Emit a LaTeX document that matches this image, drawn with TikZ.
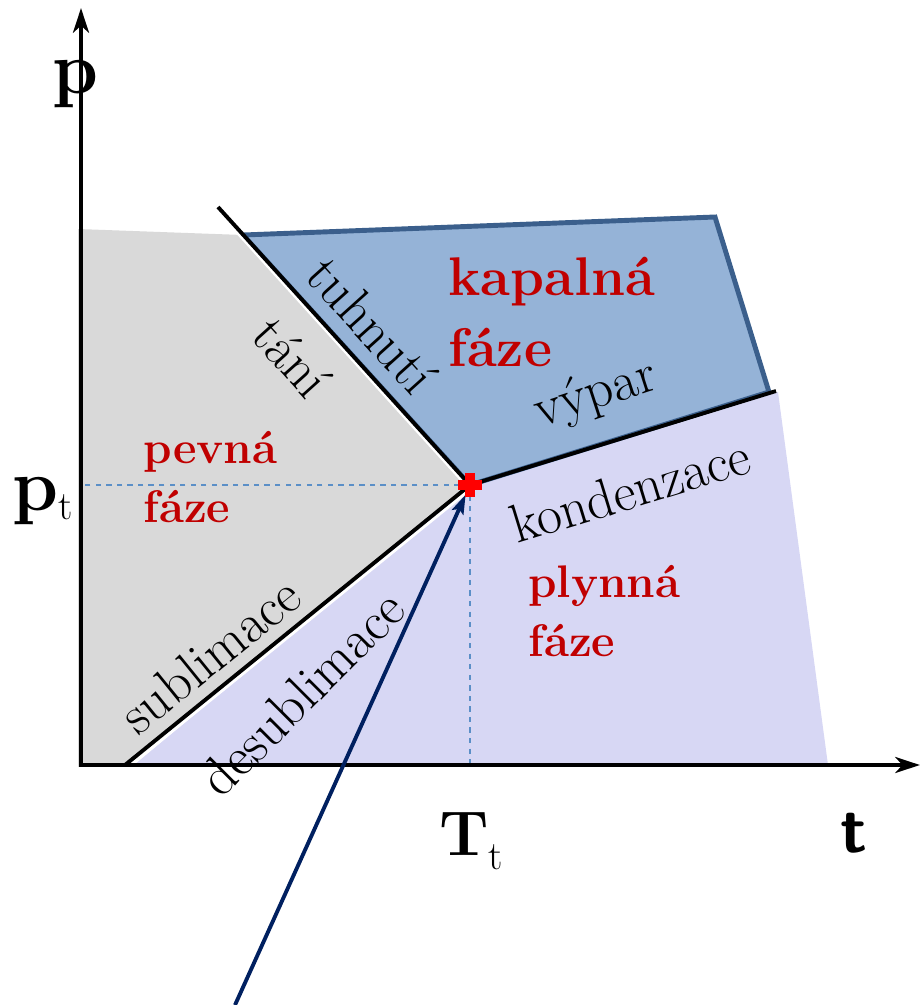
\documentclass[tikz,border=0pt]{standalone}
\usetikzlibrary{arrows.meta,calc}
\definecolor{fazered}{HTML}{C00000}
\definecolor{pevnagray}{HTML}{D9D9D9}
\definecolor{plynlav}{HTML}{D7D7F4}
\definecolor{kapblue}{HTML}{95B3D7}
\definecolor{kapedge}{HTML}{3B5F8C}
\definecolor{pomocna}{HTML}{5B8FC7}
\definecolor{navy}{HTML}{002060}
\begin{document}
\begin{tikzpicture}[x=0.02cm,y=-0.02cm]
  % Define line, label and phase styles
  \tikzstyle{osa} = [line width=2.8pt, line cap=rect,
  -{Stealth[length=14pt,width=9pt,inset=4pt]}]
  \tikzstyle{hranice} = [line width=2.2pt, black]
  \tikzstyle{mezera} = [line width=1.6pt, white]
  \tikzstyle{popisek} = [font=\fontsize{31}{36}\selectfont, inner sep=0pt]
  \tikzstyle{faze} = [text=fazered, align=left, inner sep=0pt, anchor=west]
  \tikzstyle{osapopis} = [inner sep=0pt, anchor=base]
  \tikzstyle{vodici} = [draw=pomocna, dashed, line width=0.8pt]

  \useasboundingbox (0,0) rectangle (920,1005);

  \coordinate (tp) at (470,485);
  \coordinate (O) at (81,765);
  \coordinate (ytop) at (81,8);
  \coordinate (xend) at (920,765);
  \coordinate (tanitop) at (218,207);
  \coordinate (subl) at (125,765);
  \coordinate (kondend) at (776,391);
  \coordinate (kapA) at (243,235);
  \coordinate (kapB) at (715,217);
  \coordinate (kapC) at (769,392);
  \coordinate (zdroj) at (235,1005);

  % phase regions
  \fill[pevnagray] (78,229) -- (kapA) -- (tp) -- (subl) -- (78,767) -- cycle;
  \fill[plynlav] (134,765) -- (tp) -- (778,392) -- (828,765) -- cycle;
  \filldraw[fill=kapblue, draw=kapedge, line width=2.8pt]
    (kapA) -- (kapB) -- (kapC) -- (tp) -- cycle;

  % guide lines of the triple point
  \draw[vodici] (tp) -- (tp -| O);
  \draw[vodici] (tp) -- (tp |- O);

  % phase boundaries
  \draw[mezera] ($(tanitop)+(-2.2,2)$) -- ($(tp)+(-2.2,2)$);
  \draw[mezera] ($(subl)+(2.2,2.7)$) -- ($(tp)+(2.2,2.7)$);
  \draw[hranice] (tanitop) -- (tp);
  \draw[hranice] (subl) -- (tp);
  \draw[hranice] (tp) -- (kondend);

  % axes
  \draw[osa] (O) -- (ytop);
  \draw[osa] (O) -- (xend);

  % arrow to the triple point
  \draw[navy, line width=2.2pt, shorten >=6pt,
  -{Stealth[length=11pt,width=7pt,inset=2pt]}] (zdroj) -- (tp);

  % triple point
  \draw[red, line width=5.5pt] (tp) ++(-12,0) -- ++(24,0) (tp) ++(0,-12) -- ++(0,24);

  % boundary labels
  \node[popisek, rotate=-48] (tani) at (292,357) {tání};
  \node[popisek, rotate=-48] (tuhnuti) at (372,325) {tuhnutí};
  \node[popisek, rotate=18] (vypar) at (596,395) {výpar};
  \node[popisek, rotate=17] (kondenzace) at (630,490) {kondenzace};
  \node[popisek, rotate=39] (sublimace) at (210,655) {sublimace};
  \node[popisek, rotate=45] (desublimace) at (302,693) {desublimace};

  % phase names
  \node[faze, font=\fontsize{31}{40}\selectfont\bfseries] (kapalna) at (448,312) {kapalná\\fáze};
  \node[faze, font=\fontsize{26}{34}\selectfont\bfseries] (pevna) at (143,477) {pevná\\fáze};
  \node[faze, font=\fontsize{26}{34}\selectfont\bfseries] (plynna) at (528,611) {plynná\\fáze};

  % axis labels
  \node[osapopis, font=\fontsize{42}{48}\selectfont\bfseries] (osap) at (76,93) {p};
  \node[osapopis, font=\fontsize{42}{48}\selectfont\bfseries] (osapt) at (43,510)
    {p\raisebox{-5.5pt}{\fontsize{23}{26}\selectfont\mdseries t}};
  \node[osapopis, font=\fontsize{36}{42}\selectfont\bfseries] (osatt) at (471,855)
    {T\raisebox{-8.5pt}{\fontsize{23}{26}\selectfont\mdseries t}};
  \node[osapopis, font=\fontsize{38}{44}\selectfont\sffamily\bfseries] (osat) at (854,852) {t};
\end{tikzpicture}
\end{document}
